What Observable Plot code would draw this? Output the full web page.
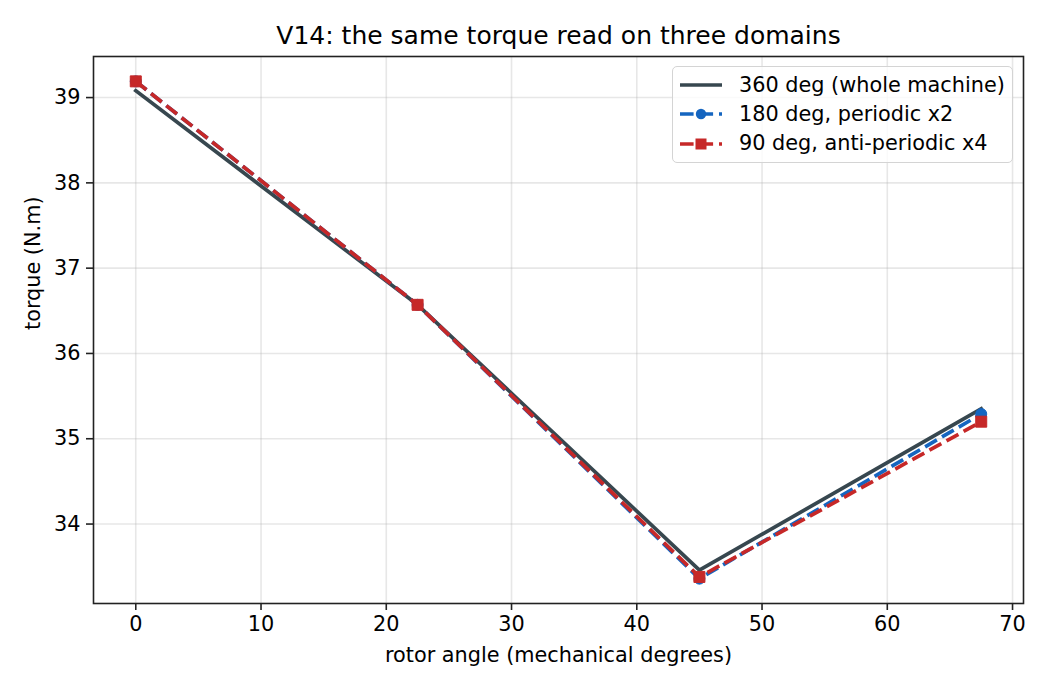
<!DOCTYPE html>
<html>
<head>
<meta charset="utf-8">
<script src="https://cdn.jsdelivr.net/npm/d3@7"></script>
<script src="https://cdn.jsdelivr.net/npm/@observablehq/plot@0.6"></script>
<style>
  body { margin: 0; background: #fff; font-family: "DejaVu Sans", sans-serif; }
  #wrap { position: relative; width: 1050px; height: 690px; }
  #legend { position: absolute; left: 672px; top: 66px; width: 341px; height: 97px;
            box-sizing: border-box; border: 1.5px solid #d4d4d4; border-radius: 5px;
            background: rgba(255,255,255,0.8); }
  .row { position: absolute; left: 0; height: 29px; width: 100%; }
  .row svg { position: absolute; left: 7px; top: 7.5px; }
  .row span { position: absolute; left: 66px; top: 0; line-height: 29px; font-size: 20.8px; color: #000; white-space: nowrap; }
</style>
</head>
<body>
<div id="wrap"></div>
<script>
// ---- data ----
const angles = [0, 22.5, 45, 67.5];
const torque360 = [39.08, 36.57, 33.46, 35.35];
const torque180 = [39.19, 36.57, 33.36, 35.29];
const torque90  = [39.19, 36.57, 33.38, 35.20];

const seriesNames  = ["360 deg (whole machine)", "180 deg, periodic x2", "90 deg, anti-periodic x4"];
const seriesColors = ["#37474f", "#1565c0", "#c62828"];
const xTicks = [0, 10, 20, 30, 40, 50, 60, 70];
const yTicks = [34, 35, 36, 37, 38, 39];

const titleText = "V14: the same torque read on three domains";
const xLabel = "rotor angle (mechanical degrees)";
const yLabel = "torque (N.m)";

// matplotlib-like 5% margins
const allY = [...torque360, ...torque180, ...torque90];
const yMin = d3.min(allY), yMax = d3.max(allY);
const yPad = (yMax - yMin) * 0.05;
const xMin = d3.min(angles), xMax = d3.max(angles);
const xPad = (xMax - xMin) * 0.05;

const dash = "13.6,5.9";
const lw = 3.7;

const chart = Plot.plot({
  width: 1050,
  height: 690,
  marginLeft: 93,
  marginRight: 27,
  marginTop: 56,
  marginBottom: 87,
  style: { fontFamily: "DejaVu Sans", fontSize: "20.8px", background: "white", color: "#000" },
  x: { domain: [xMin - xPad, xMax + xPad] },
  y: { domain: [yMin - yPad, yMax + yPad] },
  marks: [
    Plot.gridX(xTicks, { stroke: "#b0b0b0", strokeOpacity: 0.3, strokeWidth: 1.6 }),
    Plot.gridY(yTicks, { stroke: "#b0b0b0", strokeOpacity: 0.3, strokeWidth: 1.6 }),
    Plot.line(angles, { x: angles, y: torque360, stroke: seriesColors[0], strokeWidth: lw, strokeLinecap: "square" }),
    Plot.line(angles, { x: angles, y: torque180, stroke: seriesColors[1], strokeWidth: lw, strokeDasharray: dash, strokeLinecap: "butt" }),
    Plot.dot(angles, { x: angles, y: torque180, r: 5.5, symbol: "circle", fill: seriesColors[1], stroke: seriesColors[1], strokeWidth: 1 }),
    Plot.line(angles, { x: angles, y: torque90, stroke: seriesColors[2], strokeWidth: lw, strokeDasharray: dash, strokeLinecap: "butt" }),
    Plot.dot(angles, { x: angles, y: torque90, r: 6.2, symbol: "square", fill: seriesColors[2], stroke: seriesColors[2], strokeWidth: 1 }),
    Plot.frame({ stroke: "#222", strokeWidth: 1.6 }),
    Plot.axisX(xTicks, { tickSize: 7, tickPadding: 6, fontSize: 20.8, stroke: "#222", strokeWidth: 1.6, fill: "#000", label: null, tickFormat: d => String(d) }),
    Plot.axisY(yTicks, { tickSize: 7, tickPadding: 6, fontSize: 20.8, stroke: "#222", strokeWidth: 1.6, fill: "#000", label: null, tickFormat: d => String(d) }),
    Plot.text([titleText], { frameAnchor: "top", lineAnchor: "bottom", dy: -13, fontSize: 25, fill: "#000" }),
    Plot.text([xLabel], { frameAnchor: "bottom", lineAnchor: "bottom", dy: 58, fontSize: 20.8, fill: "#000" }),
    Plot.text([yLabel], { frameAnchor: "left", lineAnchor: "bottom", rotate: -90, dx: -54, fontSize: 20.8, fill: "#000" })
  ]
});

const wrap = document.getElementById("wrap");
wrap.appendChild(chart);

// ---- legend (HTML overlay) ----
const legend = d3.select(wrap).append("div").attr("id", "legend");
const rowTops = [3.5, 32.5, 62];
seriesNames.forEach((name, i) => {
  const row = legend.append("div").attr("class", "row").style("top", rowTops[i] + "px");
  const svg = row.append("svg").attr("width", 44).attr("height", 14);
  const line = svg.append("line").attr("x1", 0).attr("x2", 42).attr("y1", 7).attr("y2", 7)
    .attr("stroke", seriesColors[i]).attr("stroke-width", lw);
  if (i > 0) line.attr("stroke-dasharray", dash).attr("stroke-linecap", "butt");
  if (i === 1) svg.append("circle").attr("cx", 21).attr("cy", 7).attr("r", 5.2).attr("fill", seriesColors[i]);
  if (i === 2) svg.append("rect").attr("x", 15.5).attr("y", 1.5).attr("width", 11).attr("height", 11).attr("fill", seriesColors[i]);
  row.append("span").text(name);
});
</script>
</body>
</html>
